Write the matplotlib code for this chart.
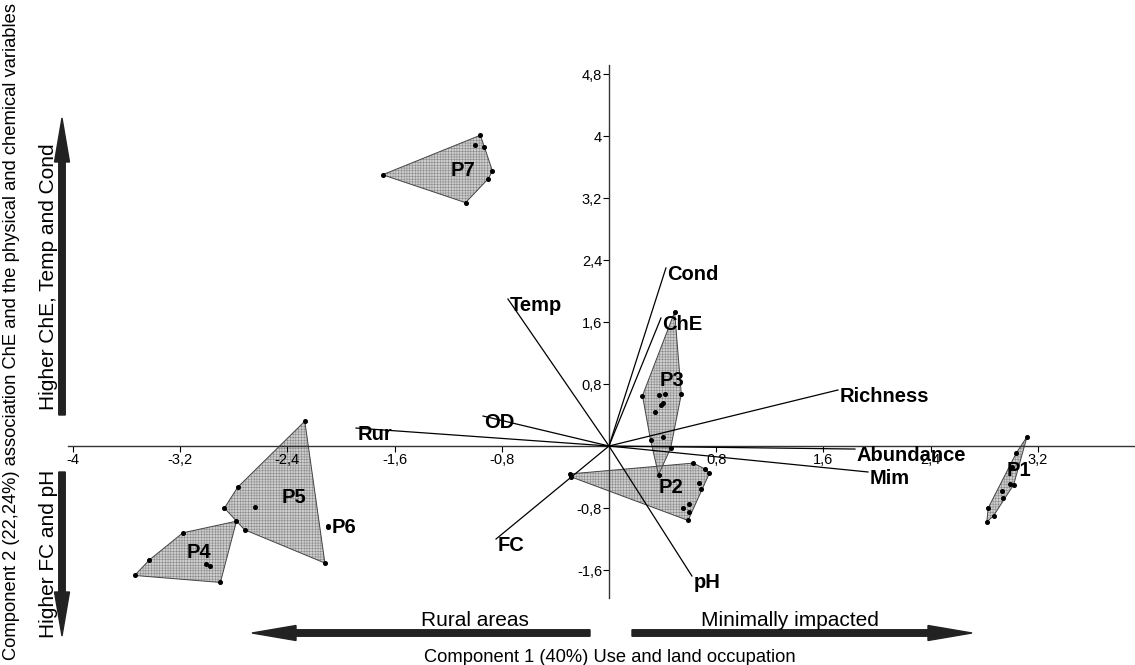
import numpy as np
import matplotlib
matplotlib.use("Agg")
import matplotlib.pyplot as plt
from matplotlib.patches import Polygon, FancyArrow
from matplotlib.ticker import FixedLocator, FuncFormatter

plt.rcParams['font.family'] = ['Liberation Sans', 'DejaVu Sans']
plt.rcParams['hatch.linewidth'] = 0.35

# sample scores on components 1 and 2, per site
p1_x = [3.12, 3.04, 3.01, 3.02, 2.99, 2.93, 2.94, 2.83, 2.87, 2.82]
p1_y = [0.12, -0.09, -0.27, -0.50, -0.49, -0.58, -0.67, -0.80, -0.90, -0.98]
p2_x = [-0.29, -0.28, 0.63, 0.72, 0.75, 0.67, 0.69, 0.60, 0.55, 0.60, 0.59]
p2_y = [-0.36, -0.40, -0.22, -0.30, -0.35, -0.48, -0.56, -0.75, -0.80, -0.85, -0.96]
p3_x = [0.49, 0.25, 0.37, 0.42, 0.54, 0.40, 0.39, 0.34, 0.31, 0.40, 0.46, 0.37]
p3_y = [1.73, 0.65, 0.66, 0.67, 0.67, 0.56, 0.53, 0.44, 0.08, 0.12, -0.03, -0.37]
p4_x = [-3.18, -3.43, -3.54, -2.90, -2.78, -3.01, -2.98]
p4_y = [-1.12, -1.47, -1.67, -1.76, -0.97, -1.52, -1.55]
p5_x = [-2.27, -2.77, -2.87, -2.72, -2.12, -2.64]
p5_y = [0.32, -0.53, -0.80, -1.08, -1.51, -0.79]
p6_x = [-2.10, -2.10]
p6_y = [-1.03, -1.05]
p7_x = [-1.69, -0.96, -0.93, -0.87, -0.90, -1.07, -1.00]
p7_y = [3.50, 4.01, 3.86, 3.55, 3.45, 3.14, 3.88]

groups = ['P1', 'P2', 'P3', 'P4', 'P5', 'P6', 'P7']
group_x = [p1_x, p2_x, p3_x, p4_x, p5_x, p6_x, p7_x]
group_y = [p1_y, p2_y, p3_y, p4_y, p5_y, p6_y, p7_y]
label_x = [3.06, 0.46, 0.47, -3.06, -2.35, -2.07, -1.09]
label_y = [-0.31, -0.53, 0.85, -1.37, -0.67, -1.05, 3.56]

# variable loadings (biplot vectors)
variables = ['Cond', 'ChE', 'Temp', 'Richness', 'Abundance', 'Mim', 'pH', 'FC', 'OD', 'Rur']
load_x = [0.425, 0.388, -0.754, 1.709, 1.836, 1.933, 0.619, -0.843, -0.940, -1.888]
load_y = [2.297, 1.652, 1.897, 0.723, -0.039, -0.335, -1.677, -1.200, 0.387, 0.232]

xticks = [-4, -3.2, -2.4, -1.6, -0.8, 0.8, 1.6, 2.4, 3.2]
yticks = [-1.6, -0.8, 0.8, 1.6, 2.4, 3.2, 4, 4.8]


def hull(xs, ys):
    pts = sorted(set(zip(xs, ys)))
    if len(pts) < 3:
        return pts
    def cross(o, a, b):
        return (a[0]-o[0])*(b[1]-o[1]) - (a[1]-o[1])*(b[0]-o[0])
    lower = []
    for p in pts:
        while len(lower) >= 2 and cross(lower[-2], lower[-1], p) <= 0:
            lower.pop()
        lower.append(p)
    upper = []
    for p in reversed(pts):
        while len(upper) >= 2 and cross(upper[-2], upper[-1], p) <= 0:
            upper.pop()
        upper.append(p)
    return lower[:-1] + upper[:-1]


fig = plt.figure(figsize=(11.35, 6.65), dpi=100)
ax = fig.add_axes([0.0525, 0.0962, 0.948, 0.81])
ax.set_xlim(-4.1, 3.93)
ax.set_ylim(-2.0, 4.95)

# axes crossing at the origin
for s in ['top', 'right']:
    ax.spines[s].set_visible(False)
ax.spines['left'].set_position(('data', 0))
ax.spines['bottom'].set_position(('data', 0))
ax.spines['left'].set_bounds(-1.96, 4.92)
ax.spines['bottom'].set_bounds(-4.04, 3.93)
ax.spines['left'].set_linewidth(1.0)
ax.spines['bottom'].set_linewidth(1.0)
ax.spines['left'].set_color('#333333')
ax.spines['bottom'].set_color('#333333')

fmt = FuncFormatter(lambda v, pos: ('%g' % v).replace('.', ','))
ax.xaxis.set_major_locator(FixedLocator(xticks))
ax.yaxis.set_major_locator(FixedLocator(yticks))
ax.xaxis.set_major_formatter(fmt)
ax.yaxis.set_major_formatter(fmt)
ax.tick_params(axis='both', direction='out', length=4, width=0.8, labelsize=10.5, pad=1)

# convex hulls of each site
for name, xs, ys, lx, ly in zip(groups, group_x, group_y, label_x, label_y):
    h = hull(xs, ys)
    if len(h) >= 3:
        ax.add_patch(Polygon(h, closed=True, facecolor='#cdcdcd', edgecolor='#858585',
                             hatch='++++++', lw=0, zorder=1))
        ax.add_patch(Polygon(h, closed=True, fill=False, edgecolor='#444444', lw=0.7, zorder=2))
    ax.plot(xs, ys, 'o', color='black', ms=2.6, zorder=3)
    ha = 'left' if name == 'P6' else 'center'
    ax.text(lx, ly, name, ha=ha, va='center', fontsize=14.5, fontweight='bold', zorder=5)

# loading vectors
for name, vx, vy in zip(variables, load_x, load_y):
    ax.plot([0, vx], [0, vy], color='black', lw=0.9, zorder=4)
    ax.annotate(name, (vx, vy), xytext=(1, 2), textcoords='offset points',
                ha='left', va='top', fontsize=14.5, fontweight='bold', zorder=5)

# interpretation arrows around the plot
def big_arrow(x0, y0, x1, y1):
    fig.add_artist(FancyArrow(x0/100, (665-y0)/100, (x1-x0)/100, -(y1-y0)/100,
                              width=0.065, head_width=0.15, head_length=0.44,
                              length_includes_head=True, color='#222222',
                              transform=fig.dpi_scale_trans))

big_arrow(590, 633, 252, 633)
big_arrow(632, 633, 972, 633)
big_arrow(62, 415, 62, 118)
big_arrow(62, 472, 62, 636)

fig.text(475/1135, 1-620/665, 'Rural areas', ha='center', va='center', fontsize=15)
fig.text(790/1135, 1-620/665, 'Minimally impacted', ha='center', va='center', fontsize=15)
fig.text(610/1135, 1-657/665, 'Component 1 (40%) Use and land occupation',
         ha='center', va='center', fontsize=13.2)
fig.text(49/1135, 1-277/665, 'Higher ChE, Temp and Cond', ha='center', va='center',
         rotation=90, fontsize=15)
fig.text(49/1135, 1-554/665, 'Higher FC and pH', ha='center', va='center',
         rotation=90, fontsize=15)
fig.text(12/1135, 1-332/665,
         'Component 2 (22,24%) association ChE and the physical and chemical variables',
         ha='center', va='center', rotation=90, fontsize=13.2)

fig.savefig('out.png', dpi=100)
